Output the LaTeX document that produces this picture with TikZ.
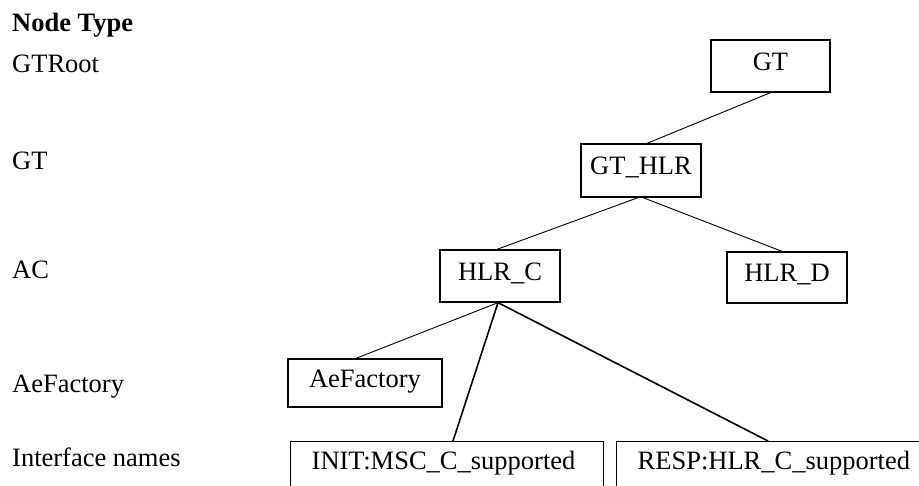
\documentclass[tikz,border=0pt]{standalone}
\usepackage{fontspec}
\setmainfont{Liberation Serif}
\begin{document}
\begin{tikzpicture}[x=1pt,y=-1pt,
  txt/.style={font=\fontsize{26.5}{30}\selectfont, inner sep=0pt},
  lbl/.style={txt, anchor=base west},
  boxnode/.style={txt, draw, line width=1.3pt, text height=20pt, text depth=11pt},
  openbox/.style={txt, draw, line width=1.4pt, anchor=north west, align=left,
     inner xsep=21pt, inner ysep=10pt, text height=18pt, text depth=40pt},
  thin/.style={line width=0.9pt},
  thick/.style={line width=1.6pt}]
\useasboundingbox (0,0) rectangle (919,486);
\clip (0,0) rectangle (919,486);
% level labels
\node[lbl, font=\fontsize{26.5}{30}\selectfont\bfseries] (hdr) at (12,32) {Node Type};
\node[lbl] (lroot) at (12,73) {GTRoot};
\node[lbl] (lgt) at (12,170) {GT};
\node[lbl] (lac) at (12,279) {AC};
\node[lbl] (lae) at (12,392) {AeFactory};
\node[lbl] (lif) at (12,467) {Interface names};
% boxes
\node[boxnode, minimum width=119pt, minimum height=52pt] (gt) at (770.5,66) {GT};
\node[boxnode, minimum width=120pt, minimum height=53pt] (gthlr) at (641,170.5) {GT\_HLR};
\node[boxnode, minimum width=120pt, minimum height=52pt] (hlrc) at (500,276) {HLR\_C};
\node[boxnode, minimum width=120pt, minimum height=51pt] (hlrd) at (787,277.5) {HLR\_D};
\node[boxnode, minimum width=154pt, minimum height=48pt] (aef) at (365,383) {AeFactory};
\node[openbox, text width=271pt] (init) at (290,441) {INIT:MSC\_C\_supported};
\node[openbox, text width=300pt] (resp) at (616,441) {RESP:HLR\_C\_supported};
% connectors
\draw[thin] (gt.south) -- ([xshift=6pt]gthlr.north);
\draw[thin] ([xshift=-3pt]gthlr.south) -- ([xshift=-3pt]hlrc.north);
\draw[thin] ([xshift=2pt]gthlr.south) -- ([xshift=-5pt]hlrd.north);
\draw[thin] ([xshift=-2pt]hlrc.south) -- ([xshift=-9pt]aef.north);
\draw[thick] ([xshift=-2pt]hlrc.south) -- ([xshift=163pt]init.north west);
\draw[thick] ([xshift=-2pt]hlrc.south) -- ([xshift=152pt]resp.north west);
\end{tikzpicture}
\end{document}
